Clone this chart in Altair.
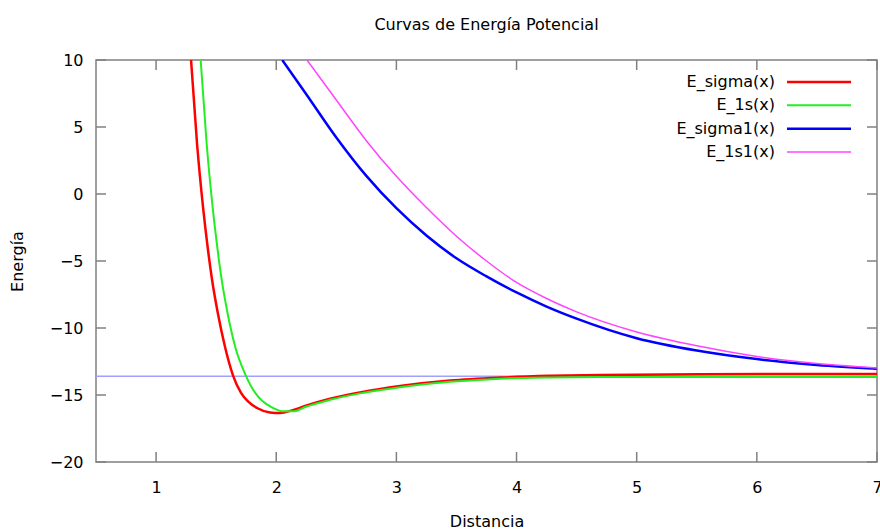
import altair as alt
import pandas as pd

# Potential energy curves: distance (x) vs energy (y)
sigma_x = [1.291, 1.341, 1.391, 1.432, 1.465, 1.515, 1.574, 1.640, 1.707, 1.765, 1.840,
           1.948, 2.031, 2.131, 2.240, 2.448, 2.697, 3.030, 3.446, 3.863, 4.279, 4.695,
           5.527, 7.0]
sigma_y = [10.0, 3.75, -1.0, -4.16, -6.34, -8.94, -11.42, -13.53, -14.84, -15.48, -15.97,
           -16.30, -16.34, -16.15, -15.82, -15.28, -14.81, -14.33, -13.92, -13.70, -13.57,
           -13.50, -13.45, -13.43]

s1_x = [1.371, 1.421, 1.471, 1.512, 1.545, 1.596, 1.659, 1.746, 1.825, 1.885, 1.960,
        2.060, 2.150, 2.240, 2.448, 2.697, 3.030, 3.446, 3.863, 4.279, 4.695, 5.527, 7.0]
s1_y = [10.0, 3.75, -1.0, -4.16, -6.34, -8.94, -11.42, -13.53, -14.84, -15.45, -15.90,
        -16.22, -16.22, -15.90, -15.36, -14.88, -14.42, -14.02, -13.78, -13.69, -13.66,
        -13.65, -13.65]

sigma1_x = [2.05, 2.25, 2.5, 2.75, 3.0, 3.25, 3.5, 3.75, 4.0, 4.25, 4.5, 5.0, 5.5, 6.0,
            6.5, 7.0]
sigma1_y = [10.0, 7.45, 4.22, 1.35, -1.06, -3.1, -4.8, -6.15, -7.35, -8.4, -9.3, -10.76,
            -11.68, -12.32, -12.76, -13.05]

s11_x = [2.256, 2.5, 2.75, 3.0, 3.25, 3.5, 3.75, 4.0, 4.25, 4.5, 5.0, 5.5, 6.0, 6.5, 7.0]
s11_y = [10.0, 7.02, 3.98, 1.32, -1.01, -3.15, -5.0, -6.6, -7.8, -8.8, -10.3, -11.33,
         -12.12, -12.65, -12.98]

series_names = ["E_sigma(x)", "E_1s(x)", "E_sigma1(x)", "E_1s1(x)"]
series_colors = ["#ff0000", "#22ee22", "#0000ff", "#ff44ff"]
series_widths = [2.5, 2.0, 2.5, 1.5]
series_points = [(sigma_x, sigma_y), (s1_x, s1_y), (sigma1_x, sigma1_y), (s11_x, s11_y)]

ionization_level = -13.6

x_ticks = [1, 2, 3, 4, 5, 6, 7]
y_ticks = [-20, -15, -10, -5, 0, 5, 10]

W, H = 781, 402
FONT = "DejaVu Sans"
FS = 16
BORDER = "#808080"

x_scale = alt.Scale(domain=[0.5, 7], nice=False, zero=False)
y_scale = alt.Scale(domain=[-20, 10], nice=False, zero=False)

x_axis = alt.Axis(values=x_ticks, title="Distancia", grid=False, domain=False, ticks=False,
                  labelFont=FONT, labelFontSize=FS, labelPadding=17, labelColor="#000",
                  titleFont=FONT, titleFontSize=FS, titleFontWeight="normal",
                  titlePadding=18, titleColor="#000", format="d", labelFlush=False)
y_axis = alt.Axis(values=y_ticks, title="Energía", grid=False, domain=False, ticks=False,
                  labelFont=FONT, labelFontSize=FS, labelPadding=13, labelColor="#000",
                  titleFont=FONT, titleFontSize=FS, titleFontWeight="normal",
                  titlePadding=24, titleColor="#000", format="d", labelFlush=False)

curve_layers = []
for name, color, width, (xs, ys) in zip(series_names, series_colors, series_widths, series_points):
    df = pd.DataFrame({"x": xs, "y": ys, "serie": name})
    curve_layers.append(
        alt.Chart(df).mark_line(clip=True, interpolate="monotone", color=color,
                                strokeWidth=width).encode(
            x=alt.X("x:Q", scale=x_scale, axis=x_axis),
            y=alt.Y("y:Q", scale=y_scale, axis=y_axis),
        )
    )

level_df = pd.DataFrame({"level": [ionization_level]})
level_rule = alt.Chart(level_df).mark_rule(color="#a0a0ff", strokeWidth=1.5).encode(
    y=alt.Y("level:Q", scale=y_scale, axis=y_axis)
)

# inward tick marks on all four sides of the frame
xt_df = pd.DataFrame({"t": x_ticks})
yt_df = pd.DataFrame({"t": y_ticks})
tick_style = dict(color=BORDER, strokeWidth=1.5)
x_ticks_bottom = alt.Chart(xt_df).mark_rule(**tick_style).encode(
    x=alt.X("t:Q", scale=x_scale, axis=x_axis), y=alt.value(H), y2=alt.value(H - 10))
x_ticks_top = alt.Chart(xt_df).mark_rule(**tick_style).encode(
    x=alt.X("t:Q", scale=x_scale, axis=x_axis), y=alt.value(0), y2=alt.value(10))
y_ticks_left = alt.Chart(yt_df).mark_rule(**tick_style).encode(
    y=alt.Y("t:Q", scale=y_scale, axis=y_axis), x=alt.value(0), x2=alt.value(10))
y_ticks_right = alt.Chart(yt_df).mark_rule(**tick_style).encode(
    y=alt.Y("t:Q", scale=y_scale, axis=y_axis), x=alt.value(W), x2=alt.value(W - 10))

plot = alt.layer(level_rule, *curve_layers, x_ticks_bottom, x_ticks_top,
                 y_ticks_left, y_ticks_right)

# key in the upper right corner: label, then line sample
key_df = pd.DataFrame({"serie": series_names, "color": series_colors, "width": series_widths})
key_y = alt.Y("serie:N", scale=alt.Scale(type="point", domain=series_names,
                                        range=[22, 92], padding=0), axis=None)
key_text = alt.Chart(key_df).mark_text(align="right", baseline="middle", font=FONT,
                                       fontSize=FS, color="#000").encode(
    x=alt.value(679), y=key_y, text="serie:N")
key_line = alt.Chart(key_df).mark_rule().encode(
    x=alt.value(691), x2=alt.value(755), y=key_y,
    color=alt.Color("color:N", scale=None),
    strokeWidth=alt.StrokeWidth("width:Q", scale=None))
key = alt.layer(key_text, key_line)

chart = alt.layer(plot, key).resolve_scale(y="independent").properties(
    width=W, height=H,
    title=alt.TitleParams("Curvas de Energía Potencial", font=FONT, fontSize=FS,
                          fontWeight="normal", anchor="middle", offset=19, color="#000"),
    autosize=alt.AutoSizeParams(type="none"),
    padding={"left": 96, "top": 60, "right": 3, "bottom": 68},
    background="white",
).configure_view(stroke=BORDER, strokeWidth=1.5)

chart.save("out.html", embed_options={"renderer": "svg", "actions": False})
